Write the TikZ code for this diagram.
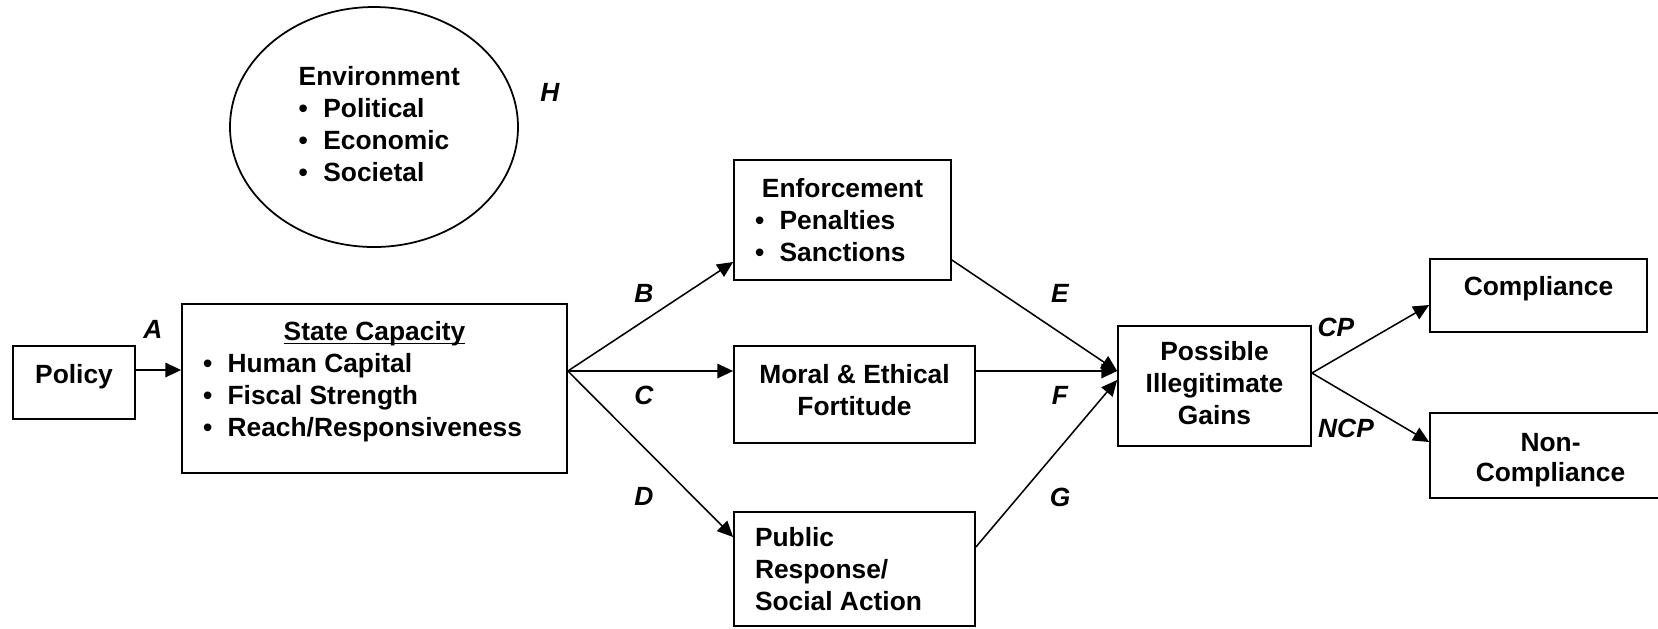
\documentclass[tikz,border=0pt]{standalone}
\usepackage{fontspec}
\setmainfont{Liberation Sans}
\usetikzlibrary{arrows.meta, shapes.geometric, calc}
\newcommand{\bul}{\makebox[11.2pt][l]{\textbullet}}
\newcommand{\ulhead}[1]{\underline{\raisebox{0pt}[\height][0pt]{#1}}}
\newcommand{\lift}[1]{\rule[-#1]{0pt}{#1}}
\newcommand{\drop}[1]{\rule{0pt}{#1}}
\tikzset{
  every picture/.style={font=\fontsize{12}{14.6}\selectfont\bfseries, line width=0.8pt},
  box/.style={draw, rectangle, align=center, inner sep=0pt},
  listbox/.style={draw, rectangle, align=flush left, inner xsep=0.336cm, inner ysep=0pt},
  arrow/.style={-{Triangle[length=7.2pt, width=6.6pt]}, line width=0.7pt},
  pathlabel/.style={font=\fontsize{12}{14.6}\selectfont\bfseries\itshape, inner sep=0pt},
}

\begin{document}
\begin{tikzpicture}
  \useasboundingbox (0,0) rectangle (26.528,-10.048);
  % environment
  \node[draw, ellipse, minimum width=4.608cm, minimum height=3.84cm, align=left, inner sep=0pt] (env) at (5.984,-2.032)
    {Environment\hspace*{-0.2cm}\\ \bul Political\\ \bul Economic\\ \bul Societal\lift{2.9pt}};
  % boxes
  \node[box, minimum width=1.952cm, minimum height=1.168cm] (policy) at (1.184,-6.12) {Policy\lift{7.6pt}};
  \node[listbox, text width=5.488cm, minimum height=2.704cm] (state) at (5.992,-6.216)
    {\makebox[\linewidth]{\ulhead{State Capacity}}\\ \bul Human Capital\\ \bul Fiscal Strength\\ \bul Reach/Responsiveness\lift{8.9pt}};
  \node[listbox, text width=2.8cm, minimum height=1.92cm] (enf) at (13.48,-3.52)
    {\makebox[\linewidth]{Enforcement}\\ \bul Penalties\\ \bul Sanctions};
  \node[box, minimum width=3.856cm, minimum height=1.552cm] (moral) at (13.672,-6.312) {Moral \& Ethical\\ Fortitude\lift{3.8pt}};
  \node[listbox, text width=3.184cm, minimum height=1.824cm] (public) at (13.672,-9.104) {Public\\ Response/\\ Social Action};
  \node[box, minimum width=3.088cm, minimum height=1.92cm] (gains) at (19.432,-6.176) {Possible\\ Illegitimate\\ Gains\lift{2.9pt}};
  \node[box, minimum width=3.472cm, minimum height=1.168cm] (comp) at (24.616,-4.728) {Compliance\lift{8.3pt}};
  \node[box, minimum width=3.856cm, minimum height=1.36cm] (noncomp) at (24.808,-7.288) {\drop{12.6pt}Non-\\[-1pt] Compliance};
  % branch points
  \coordinate (fork) at ([yshift=0.28cm]state.east);
  \coordinate (join) at ([yshift=0.24cm]gains.west);
  \coordinate (split) at ([yshift=0.208cm]gains.east);
  % arrows
  \draw[arrow] ([yshift=0.2cm]policy.east) -- ([yshift=0.296cm]state.west);
  \draw[arrow] (fork) -- ([yshift=-0.672cm]enf.west);
  \draw[arrow] (fork) -- (fork -| moral.west);
  \draw[arrow] (fork) -- ([yshift=0.512cm]public.west);
  \draw[arrow] ([yshift=-0.64cm]enf.east) -- (join);
  \draw[arrow] (join -| moral.east) -- (join);
  \draw[arrow] ([yshift=0.352cm]public.east) -- ([yshift=0.096cm]gains.west);
  \draw[arrow] (split) -- ([yshift=-0.152cm]comp.west);
  \draw[arrow] (split) -- ([yshift=0.216cm]noncomp.west);
  % path letters
  \foreach \lbl/\x/\y in {A/2.448/-5.272, B/10.304/-4.688, C/10.304/-6.32, D/10.304/-7.936,
      E/16.96/-4.688, F/16.96/-6.32, G/16.96/-7.952, H/8.8/-1.48, CP/21.376/-5.232, NCP/21.536/-6.848}
    \node[pathlabel] (lab\lbl) at (\x,\y) {\lbl};
\end{tikzpicture}
\end{document}
